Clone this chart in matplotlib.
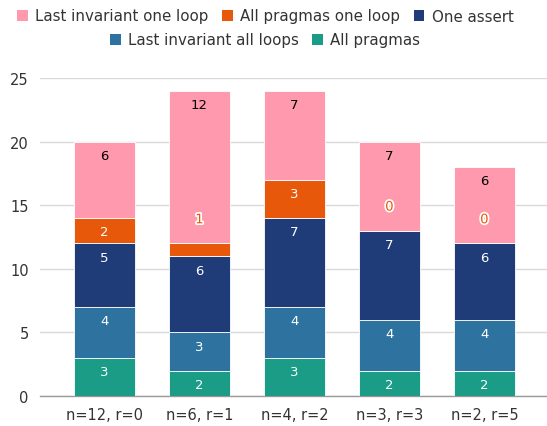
import matplotlib
matplotlib.use("Agg")
import matplotlib.pyplot as plt
from matplotlib.patches import Patch
import matplotlib.patheffects as pe
import numpy as np

categories = ["n=12, r=0", "n=6, r=1", "n=4, r=2", "n=3, r=3", "n=2, r=5"]
all_pragmas = [3, 2, 3, 2, 2]
last_inv_all = [4, 3, 4, 4, 4]
one_assert = [5, 6, 7, 7, 6]
all_pragmas_one = [2, 1, 3, 0, 0]
last_inv_one = [6, 12, 7, 7, 6]

series = [
    ("All pragmas", all_pragmas, "#1b9c87"),
    ("Last invariant all loops", last_inv_all, "#2e73a0"),
    ("One assert", one_assert, "#1f3c78"),
    ("All pragmas one loop", all_pragmas_one, "#e8580a"),
    ("Last invariant one loop", last_inv_one, "#ff99ad"),
]

plt.rcParams['font.family'] = ['DejaVu Sans']
fig = plt.figure(figsize=(5.47, 4.27), dpi=100)
ax = fig.add_axes([0.073, 0.070, 0.927, 0.745])

x = np.arange(len(categories))
bottom = np.zeros(len(categories))
for name, vals, col in series:
    vals = np.array(vals, dtype=float)
    ax.bar(x, vals, 0.64, bottom=bottom, color=col, edgecolor="white", linewidth=0.6, zorder=3)
    for i, v in enumerate(vals):
        top = bottom[i] + v
        if v >= 2:
            tc = "black" if name == "Last invariant one loop" else "white"
            ax.annotate(f"{int(v)}", (x[i], top), xytext=(0, -10), textcoords="offset points",
                        ha="center", va="center", color=tc, fontsize=9.5, zorder=5)
        else:
            ax.annotate(f"{int(v)}", (x[i], top), xytext=(0, 17), textcoords="offset points",
                        ha="center", va="center", color=col, fontsize=9.5, zorder=5,
                        path_effects=[pe.withStroke(linewidth=2.5, foreground="white")])
    bottom += vals

ax.set_ylim(0, 25)
ax.set_xlim(-0.68, 4.66)
ax.set_yticks([0, 5, 10, 15, 20, 25])
ax.set_xticks(x)
ax.set_xticklabels(categories)
ax.tick_params(axis="both", length=0, labelsize=10.5, colors="#333333")
ax.tick_params(axis="y", pad=8)
ax.tick_params(axis="x", pad=8)
ax.grid(axis="y", color="#d9d9d9", linewidth=1, zorder=0)
for s in ["top", "right", "left"]:
    ax.spines[s].set_visible(False)
ax.spines["bottom"].set_color("#999999")
ax.spines["bottom"].set_linewidth(1)

def handles(names):
    d = {n: c for n, _, c in series}
    return [Patch(facecolor=d[n], edgecolor="none", label=n) for n in names]

row1 = ["Last invariant one loop", "All pragmas one loop", "One assert"]
row2 = ["Last invariant all loops", "All pragmas"]
kw = dict(frameon=False, fontsize=10.8, handlelength=0.7, handleheight=0.7,
          handletextpad=0.5, columnspacing=0.9, labelcolor="#333333")
l1 = fig.legend(handles=handles(row1), loc="center", bbox_to_anchor=(0.485, 1 - 17 / 427), ncol=3, **kw)
l2 = fig.legend(handles=handles(row2), loc="center", bbox_to_anchor=(0.485, 1 - 41 / 427), ncol=2, **kw)

fig.savefig("out.png", dpi=100)
